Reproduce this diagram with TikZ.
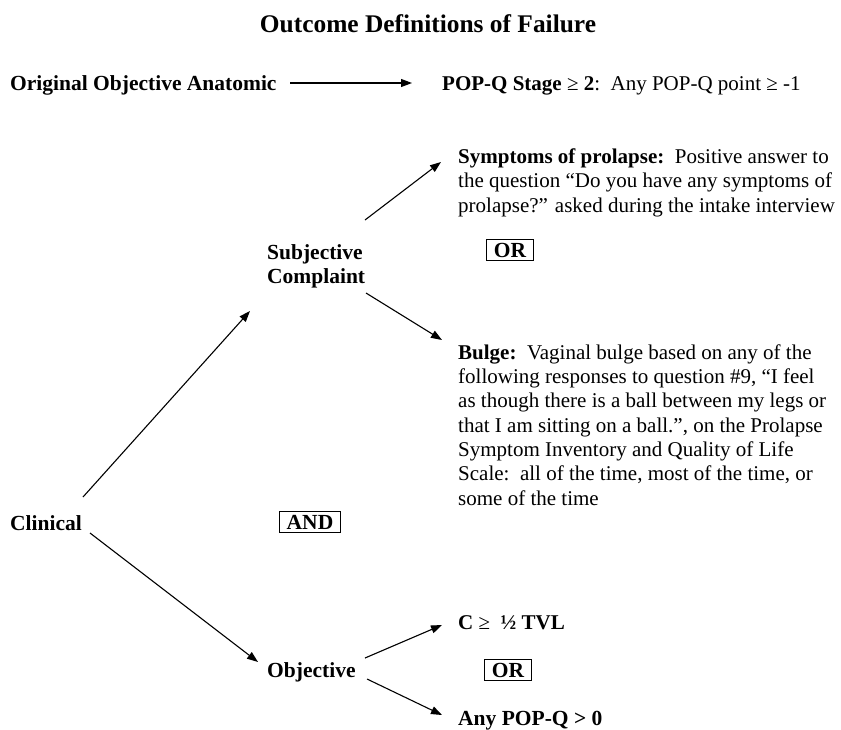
\documentclass[tikz,border=0pt]{standalone}
\usepackage{fontspec}
\setmainfont{Liberation Serif}
\usetikzlibrary{arrows.meta}
\tikzset{
  txt/.style={anchor=base west, inner sep=0pt, font=\fontsize{21}{24.3}\selectfont, align=left},
  btxt/.style={txt, font=\fontsize{21.5}{24}\selectfont\bfseries},
  boxed/.style={draw, line width=0.9pt, inner xsep=7pt, inner ysep=3pt, anchor=center, font=\fontsize{21.5}{23}\selectfont\bfseries},
  arr/.style={line width=1.1pt, -{Triangle[length=11pt,width=8pt]}},
}
\begin{document}
\begin{tikzpicture}[x=1pt,y=-1pt]
\useasboundingbox (0,0) rectangle (841,729);
\node[anchor=base, inner sep=0pt, font=\fontsize{25.4}{28}\selectfont\bfseries] (title) at (428,32) {Outcome Definitions of Failure};
\node[btxt] (orig) at (10,90) {Original Objective Anatomic};
\node[txt] (popq) at (442,90) {\textbf{POP-Q Stage} ≥ \textbf{2}:\ \ Any POP-Q point ≥ -1};
\node[txt] (symp) at (458,212) {\textbf{Symptoms of prolapse:}\ \ Positive answer to\\the question “Do you have any symptoms of\\prolapse?” asked during the intake interview};
\node[btxt] (subj) at (267,283) {Subjective\\Complaint};
\node[boxed] (or1) at (510,250) {OR};
\node[txt] (bulge) at (458,505) {\textbf{Bulge:}\ \ Vaginal bulge based on any of the\\following responses to question \#9, “I feel\\as though there is a ball between my legs or\\that I am sitting on a ball.”, on the Prolapse\\Symptom Inventory and Quality of Life\\Scale:\ \ all of the time, most of the time, or\\some of the time};
\node[btxt] (clin) at (10,530) {Clinical};
\node[boxed] (and) at (310,522) {AND};
\node[btxt] (obj) at (267,677) {Objective};
\node[txt] (cge) at (458,629) {\textbf{C} ≥ \ \textbf{½ TVL}};
\node[boxed] (or2) at (508,670) {OR};
\node[btxt] (any) at (458,725) {Any POP-Q > 0};

\coordinate (a1s) at (290,83); \coordinate (a1e) at (412,83);
\coordinate (a2s) at (365,220); \coordinate (a2e) at (441,162);
\coordinate (a3s) at (366,293); \coordinate (a3e) at (442,340);
\coordinate (a4s) at (83,497); \coordinate (a4e) at (250,311);
\coordinate (a5s) at (90,533); \coordinate (a5e) at (258,662);
\coordinate (a6s) at (365,658); \coordinate (a6e) at (442,625);
\coordinate (a7s) at (367,679); \coordinate (a7e) at (442,715);
\draw[arr] (a1s) -- (a1e);
\draw[arr] (a2s) -- (a2e);
\draw[arr] (a3s) -- (a3e);
\draw[arr] (a4s) -- (a4e);
\draw[arr] (a5s) -- (a5e);
\draw[arr] (a6s) -- (a6e);
\draw[arr] (a7s) -- (a7e);
\end{tikzpicture}
\end{document}
